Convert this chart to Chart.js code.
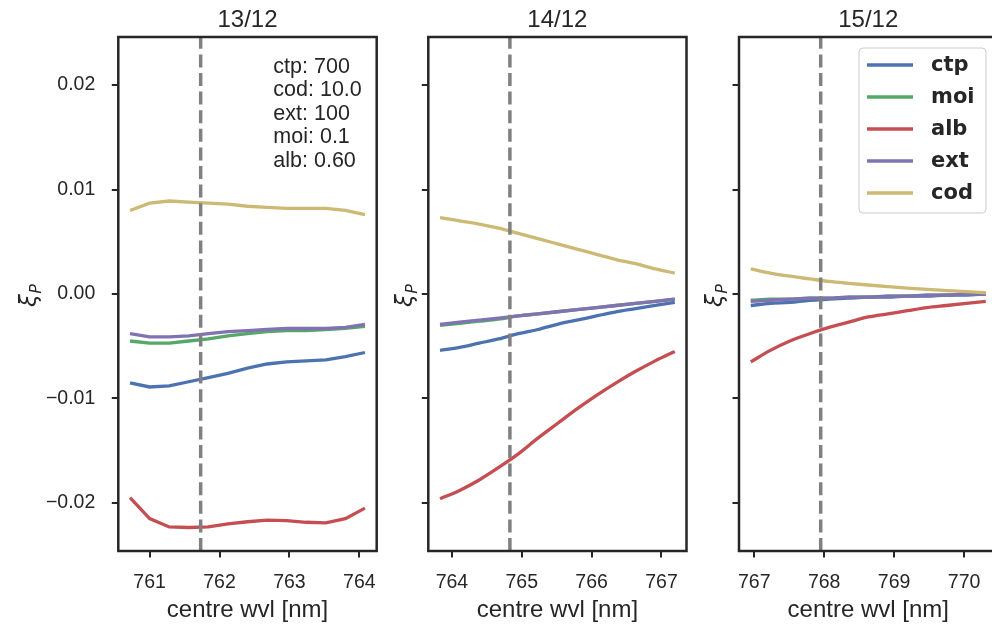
<!DOCTYPE html>
<html>
<head>
<meta charset="utf-8">
<script src="https://cdn.jsdelivr.net/npm/chart.js@4.4.1/dist/chart.umd.min.js"></script>
<style>
  html, body { margin: 0; padding: 0; background: #ffffff; overflow: hidden; }
  #wrap { position: relative; width: 992px; height: 626px; overflow: hidden; }
  canvas { position: absolute; top: 0; }
</style>
</head>
<body>
<div id="wrap">
  <canvas id="p13" width="392" height="626" style="left:0px"></canvas>
  <canvas id="p14" width="308" height="626" style="left:392px"></canvas>
  <canvas id="p15" width="310" height="626" style="left:700px"></canvas>
</div>
<script>
// ---- data -------------------------------------------------------------
const panelTitles = ['13/12', '14/12', '15/12'];
const seriesNames = ['ctp', 'moi', 'alb', 'ext', 'cod'];

// centre wavelength of each band (dashed marker), nm
const centreWvl = [761.73, 764.83, 767.95];

// 13/12
const wvl13 = [760.72, 761.00, 761.28, 761.56, 761.84, 762.12, 762.40, 762.68, 762.96, 763.24, 763.52, 763.80, 764.08];
const ctp13 = [-0.0085, -0.0089, -0.0088, -0.0084, -0.0080, -0.0076, -0.0071, -0.0067, -0.0065, -0.0064, -0.0063, -0.0060, -0.0056];
const moi13 = [-0.0045, -0.0047, -0.0047, -0.0045, -0.0043, -0.0040, -0.0038, -0.0036, -0.0035, -0.0035, -0.0034, -0.0033, -0.0031];
const alb13 = [-0.0195, -0.0215, -0.0223, -0.02235, -0.0223, -0.0220, -0.0218, -0.02165, -0.0217, -0.02185, -0.0219, -0.0215, -0.0205];
const ext13 = [-0.0038, -0.0041, -0.0041, -0.0040, -0.0038, -0.0036, -0.0035, -0.0034, -0.0033, -0.0033, -0.0033, -0.0032, -0.0029];
const cod13 = [0.0080, 0.0087, 0.0089, 0.0088, 0.0087, 0.0086, 0.0084, 0.0083, 0.0082, 0.0082, 0.0082, 0.0080, 0.0076];

// 14/12
const wvl14 = [763.83, 764.11, 764.39, 764.67, 764.95, 765.23, 765.51, 765.79, 766.07, 766.35, 766.63, 766.91, 767.19];
const ctp14 = [-0.0054, -0.0051, -0.0047, -0.0043, -0.0038, -0.0034, -0.0029, -0.0025, -0.0021, -0.0017, -0.0014, -0.0011, -0.0008];
const moi14 = [-0.0030, -0.0028, -0.0026, -0.0024, -0.0021, -0.0019, -0.0017, -0.0015, -0.0013, -0.0011, -0.0009, -0.0007, -0.0005];
const alb14 = [-0.0196, -0.0188, -0.0178, -0.0166, -0.0153, -0.0138, -0.0124, -0.0110, -0.0097, -0.0085, -0.0074, -0.0064, -0.0055];
const ext14 = [-0.0029, -0.0027, -0.0025, -0.0023, -0.0021, -0.0019, -0.0017, -0.0015, -0.0013, -0.0011, -0.0009, -0.0007, -0.0005];
const cod14 = [0.0073, 0.0070, 0.0067, 0.0063, 0.0058, 0.0053, 0.0048, 0.0043, 0.0038, 0.0033, 0.0029, 0.0024, 0.0020];

// 15/12
const wvl15 = [766.95, 767.23, 767.51, 767.79, 768.07, 768.35, 768.63, 768.91, 769.19, 769.47, 769.75, 770.03, 770.31];
const ctp15 = [-0.0011, -0.0009, -0.0008, -0.0006, -0.0005, -0.0004, -0.0003, -0.0003, -0.0002, -0.0002, -0.0001, -0.0001, -0.0000];
const moi15 = [-0.0006, -0.0005, -0.0005, -0.0004, -0.0004, -0.0003, -0.0003, -0.0002, -0.0002, -0.0001, -0.0001, -0.0000, 0.0000];
const alb15 = [-0.0065, -0.0054, -0.0045, -0.0038, -0.0032, -0.0027, -0.0022, -0.0019, -0.0016, -0.0013, -0.0011, -0.0009, -0.0007];
const ext15 = [-0.0007, -0.0006, -0.0005, -0.0004, -0.0004, -0.0003, -0.0003, -0.0002, -0.0002, -0.0001, -0.0001, -0.0000, 0.0000];
const cod15 = [0.0024, 0.0020, 0.0017, 0.00145, 0.0012, 0.00102, 0.00086, 0.00071, 0.00057, 0.00044, 0.00033, 0.00022, 0.00012];

// axis ticks
const yTicks = [-0.02, -0.01, 0.00, 0.01, 0.02];
const yLimit = 0.0246;
const xTicks13 = [761, 762, 763, 764];
const xTicks14 = [764, 765, 766, 767];
const xTicks15 = [767, 768, 769, 770];

// retrieval settings listed in the first panel
const paramNames = ['ctp', 'cod', 'ext', 'moi', 'alb'];
const paramValues = ['700', '10.0', '100', '0.1', '0.60'];

// ---- style ------------------------------------------------------------
const INK = '#262626';
const SANS = '"Liberation Sans", Arial, sans-serif';
const seriesColors = ['#4C72B0', '#55A868', '#C44E52', '#8172B2', '#CCB974'];
const LINE_W = 3.3;

const panels = [
  { id: 'p13', title: panelTitles[0], wvl: wvl13, series: [ctp13, moi13, alb13, ext13, cod13], xTicks: xTicks13, centre: centreWvl[0],
    yAxisWidth: 118.3, padRight: 15.3, yLabels: true, ylabelGap: 82, tension: 0, notes: true, legend: false },
  { id: 'p14', title: panelTitles[1], wvl: wvl14, series: [ctp14, moi14, alb14, ext14, cod14], xTicks: xTicks14, centre: centreWvl[1],
    yAxisWidth: 36.3, padRight: 13.5, yLabels: false, ylabelGap: 16, tension: 0.4, notes: false, legend: false },
  { id: 'p15', title: panelTitles[2], wvl: wvl15, series: [ctp15, moi15, alb15, ext15, cod15], xTicks: xTicks15, centre: centreWvl[2],
    yAxisWidth: 39, padRight: 12.5, yLabels: false, ylabelGap: 17, tension: 0.4, notes: false, legend: true }
];

function fmtY(v) {
  const s = Math.abs(v).toFixed(2);
  return v < -1e-9 ? '\u2212' + s : s;
}

// frame, panel title, y label, settings text and legend
const decorations = {
  id: 'decorations',
  afterDatasetsDraw(chart, args, opts) {
    const ctx = chart.ctx;
    const a = chart.chartArea;
    ctx.save();

    ctx.strokeStyle = INK;
    ctx.lineWidth = 2.5;
    ctx.strokeRect(a.left, a.top, a.right - a.left, a.bottom - a.top);

    ctx.fillStyle = INK;
    ctx.font = '24px ' + SANS;
    ctx.textAlign = 'center';
    ctx.textBaseline = 'alphabetic';
    ctx.fillText(opts.title, (a.left + a.right) / 2, a.top - 9.7);

    // y label: italic xi with subscript P, rotated
    ctx.save();
    ctx.translate(a.left - opts.ylabelGap, (a.top + a.bottom) / 2);
    ctx.rotate(-Math.PI / 2);
    ctx.textAlign = 'left';
    ctx.font = 'italic 23px "DejaVu Sans"';
    const xiW = ctx.measureText('\u03BE').width;
    ctx.fillText('\u03BE', -13, 0);
    ctx.font = 'italic 16px "DejaVu Sans"';
    ctx.fillText('P', -13 + xiW + 0.5, 5);
    ctx.restore();

    if (opts.notes) {
      ctx.font = '21.5px ' + SANS;
      ctx.textAlign = 'left';
      const x0 = a.left + 0.6 * (a.right - a.left);
      paramNames.forEach((n, i) => {
        ctx.fillText(n + ': ' + paramValues[i], x0, a.top + 35.7 + i * 23.5);
      });
    }

    if (opts.legend) {
      const w = 127, h = 165;
      const bx = a.right - 11.5 - w, by = a.top + 11;
      ctx.beginPath();
      ctx.roundRect(bx, by, w, h, 4);
      ctx.fillStyle = 'rgba(255,255,255,0.8)';
      ctx.fill();
      ctx.strokeStyle = '#cccccc';
      ctx.lineWidth = 1;
      ctx.stroke();
      ctx.font = 'bold 21px "DejaVu Sans"';
      ctx.textAlign = 'left';
      ctx.textBaseline = 'middle';
      chart.data.datasets.filter(d => seriesNames.includes(d.label)).forEach((d, i) => {
        const cy = by + 17 + i * 32;
        ctx.strokeStyle = d.borderColor;
        ctx.lineWidth = LINE_W;
        ctx.beginPath();
        ctx.moveTo(bx + 8, cy);
        ctx.lineTo(bx + 54, cy);
        ctx.stroke();
        ctx.fillStyle = INK;
        ctx.fillText(d.label, bx + 72, cy + 1);
      });
    }
    ctx.restore();
  }
};

panels.forEach(p => {
  const lo = Math.min(...p.wvl), hi = Math.max(...p.wvl);
  const m = 0.05 * (hi - lo);

  const datasets = seriesNames.map((name, k) => ({
    label: name,
    data: p.wvl.map((w, i) => ({ x: w, y: p.series[k][i] })),
    borderColor: seriesColors[k],
    backgroundColor: seriesColors[k],
    borderWidth: LINE_W,
    pointRadius: 0,
    tension: p.tension,
    cubicInterpolationMode: p.tension ? 'monotone' : 'default',
    fill: false,
    order: 5 - k
  }));
  datasets.push({
    label: 'centre',
    data: [{ x: p.centre, y: -yLimit }, { x: p.centre, y: yLimit }],
    borderColor: '#808080',
    borderWidth: 3.5,
    borderDash: [13, 5.6],
    pointRadius: 0,
    fill: false,
    order: 0
  });

  new Chart(document.getElementById(p.id), {
    type: 'line',
    data: { datasets },
    options: {
      responsive: false,
      maintainAspectRatio: false,
      devicePixelRatio: 1,
      animation: false,
      layout: { autoPadding: false, padding: { top: 37, right: p.padRight, bottom: 0, left: 0 } },
      plugins: {
        legend: { display: false },
        tooltip: { enabled: false },
        decorations: { title: p.title, ylabelGap: p.ylabelGap, notes: p.notes, legend: p.legend }
      },
      scales: {
        x: {
          type: 'linear',
          min: lo - m,
          max: hi + m,
          afterBuildTicks: s => { s.ticks = p.xTicks.map(v => ({ value: v })); },
          afterFit: s => { s.height = 75; },
          ticks: { font: { family: SANS, size: 19.5 }, color: INK, padding: 13, autoSkip: false, maxRotation: 0,
                   callback: v => String(v) },
          grid: { display: true, drawOnChartArea: false, drawTicks: true, tickLength: 6.5, lineWidth: 2, color: INK },
          border: { display: false },
          title: { display: true, text: 'centre wvl [nm]', color: INK, font: { family: SANS, size: 24 },
                   padding: { top: 0, bottom: 1.6 } }
        },
        y: {
          type: 'linear',
          min: -yLimit,
          max: yLimit,
          afterBuildTicks: s => { s.ticks = yTicks.map(v => ({ value: v })); },
          afterFit: s => { s.width = p.yAxisWidth; },
          ticks: { font: { family: SANS, size: 19.5 }, color: INK, padding: 16.5, autoSkip: false,
                   callback: v => p.yLabels ? fmtY(v) : '' },
          grid: { display: true, drawOnChartArea: false, drawTicks: true, tickLength: 6.5, lineWidth: 2, color: INK },
          border: { display: false }
        }
      }
    },
    plugins: [decorations]
  });
});
</script>
</body>
</html>
